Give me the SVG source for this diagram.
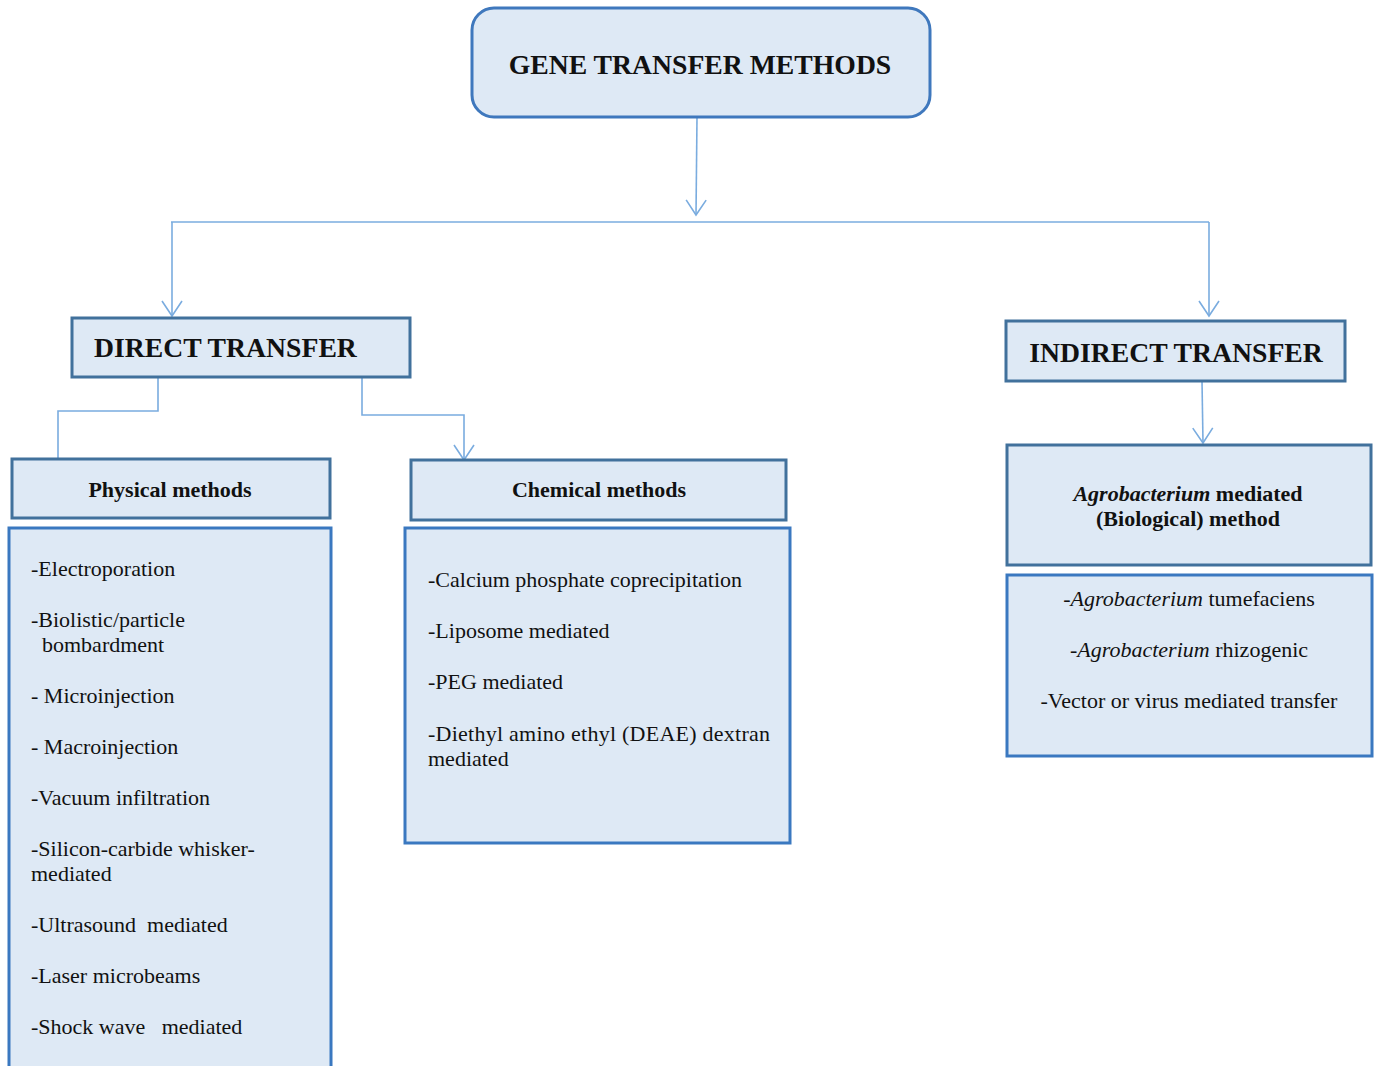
<svg xmlns="http://www.w3.org/2000/svg" width="1380" height="1066" viewBox="0 0 1380 1066">
<style>
.box{fill:#dee9f5;stroke:#41719c;stroke-width:3}
.list{fill:#dee9f5;stroke:#3a78c0;stroke-width:3}
.title{fill:#dee9f5;stroke:#3f78bd;stroke-width:3}
.conn{fill:none;stroke:#7aacdf;stroke-width:1.6}
text{font-family:"Liberation Serif","Times New Roman",serif;fill:#111}
.h1{font-size:27.7px;font-weight:bold}
.h2{font-size:22px;font-weight:bold}
.it{font-size:22px}
</style>
<defs>
<marker id="arr" markerWidth="18" markerHeight="22" viewBox="0 0 18 22" refX="16" refY="11" orient="auto" markerUnits="userSpaceOnUse">
<path d="M1,1 L16,11 L1,21" fill="none" stroke="#7aacdf" stroke-width="1.6"/>
</marker>
</defs>
<rect width="1380" height="1066" fill="#fff"/>
<g id="connectors">
<path class="conn" d="M697,117 L696,215" marker-end="url(#arr)"/>
<path class="conn" d="M171,222 L1209,222"/>
<path class="conn" d="M172,222 L172,316" marker-end="url(#arr)"/>
<path class="conn" d="M1209,222 L1209,316" marker-end="url(#arr)"/>
<path class="conn" d="M158,377 L158,411 L58,411 L58,458"/>
<path class="conn" d="M362,377 L362,415 L464,415 L464,460" marker-end="url(#arr)"/>
<path class="conn" d="M1202,381 L1203,443" marker-end="url(#arr)"/>
</g>
<g id="gene-transfer-methods">
<rect class="title" x="472" y="8" width="458" height="109" rx="22"/>
<text class="h1" x="700" y="74" text-anchor="middle">GENE TRANSFER METHODS</text>
</g>
<g id="direct-transfer">
<rect class="box" x="72" y="318" width="338" height="59"/>
<text class="h1" x="94" y="357">DIRECT TRANSFER</text>
</g>
<g id="indirect-transfer">
<rect class="box" x="1006" y="321" width="339" height="60"/>
<text class="h1" x="1176" y="362" text-anchor="middle">INDIRECT TRANSFER</text>
</g>
<g id="physical-methods">
<rect class="box" x="12" y="459" width="318" height="59"/>
<text class="h2" x="170" y="497" text-anchor="middle">Physical methods</text>
</g>
<g id="physical-list">
<rect class="list" x="9" y="528" width="322" height="545"/>
<text class="it" x="31" y="576">-Electroporation</text>
<text class="it" x="31" y="627">-Biolistic/particle</text>
<text class="it" x="42" y="652">bombardment</text>
<text class="it" x="31" y="703">- Microinjection</text>
<text class="it" x="31" y="754">- Macroinjection</text>
<text class="it" x="31" y="805">-Vacuum infiltration</text>
<text class="it" x="31" y="856">-Silicon-carbide whisker-</text>
<text class="it" x="31" y="881">mediated</text>
<text class="it" x="31" y="932" xml:space="preserve">-Ultrasound  mediated</text>
<text class="it" x="31" y="983">-Laser microbeams</text>
<text class="it" x="31" y="1034" xml:space="preserve">-Shock wave   mediated</text>
</g>
<g id="chemical-methods">
<rect class="box" x="411" y="460" width="375" height="60"/>
<text class="h2" x="599" y="497" text-anchor="middle">Chemical methods</text>
</g>
<g id="chemical-list">
<rect class="list" x="405" y="528" width="385" height="315"/>
<text class="it" x="428" y="587">-Calcium phosphate coprecipitation</text>
<text class="it" x="428" y="638">-Liposome mediated</text>
<text class="it" x="428" y="689">-PEG mediated</text>
<text class="it" x="428" y="741" textLength="342" lengthAdjust="spacing">-Diethyl amino ethyl (DEAE) dextran</text>
<text class="it" x="428" y="766">mediated</text>
</g>
<g id="agrobacterium-method">
<rect class="box" x="1007" y="445" width="364" height="120"/>
<text class="h2" x="1188" y="501" text-anchor="middle"><tspan font-style="italic">Agrobacterium</tspan> mediated</text>
<text class="h2" x="1188" y="526" text-anchor="middle">(Biological) method</text>
</g>
<g id="indirect-list">
<rect class="list" x="1007" y="575" width="365" height="181"/>
<text class="it" x="1189" y="606" text-anchor="middle">-<tspan font-style="italic">Agrobacterium</tspan> tumefaciens</text>
<text class="it" x="1189" y="657" text-anchor="middle">-<tspan font-style="italic">Agrobacterium</tspan> rhizogenic</text>
<text class="it" x="1189" y="708" text-anchor="middle">-Vector or virus mediated transfer</text>
</g>
</svg>
